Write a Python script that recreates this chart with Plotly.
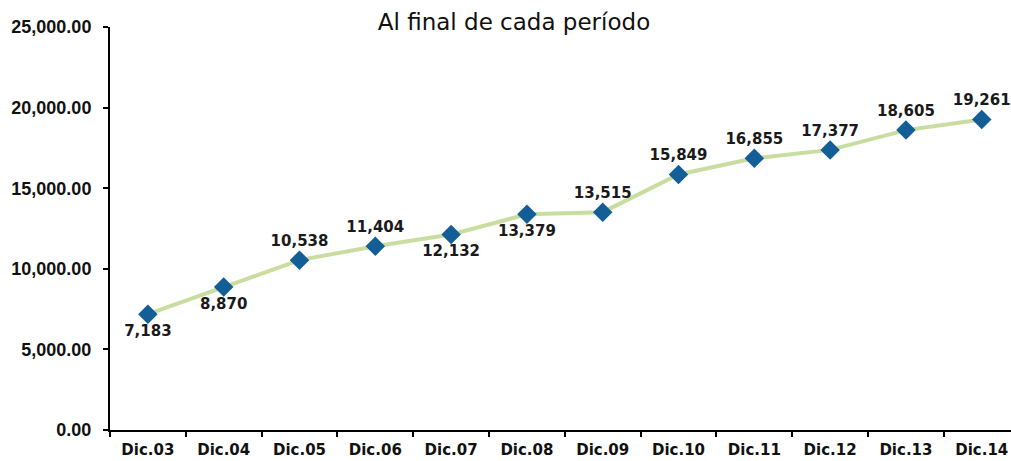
import plotly.graph_objects as go

categories = ["Dic.03", "Dic.04", "Dic.05", "Dic.06", "Dic.07", "Dic.08",
              "Dic.09", "Dic.10", "Dic.11", "Dic.12", "Dic.13", "Dic.14"]
values = [7183, 8870, 10538, 11404, 12132, 13379, 13515, 15849, 16855, 17377, 18605, 19261]
label_pos = ["bottom center", "bottom center", "top center", "top center", "bottom center",
             "bottom center", "top center", "top center", "top center", "top center",
             "top center", "top center"]
y_ticks = [0, 5000, 10000, 15000, 20000, 25000]
title_text = "Al final de cada período"

W, H = 1011, 461

fig = go.Figure()
fig.add_trace(go.Scatter(
    x=categories, y=values,
    mode="lines+markers+text",
    line=dict(color="#C9DDA0", width=4),
    marker=dict(symbol="diamond", size=15, color="#135E96"),
    text=[f"{v:,}" for v in values],
    textposition=label_pos,
    textfont=dict(family="DejaVu Sans", size=15, color="#1a1a1a", weight="bold"),
    cliponaxis=False,
    hoverinfo="skip",
))

fig.update_layout(
    width=W, height=H,
    margin=dict(l=110, r=0, t=27, b=31),
    plot_bgcolor="white", paper_bgcolor="white",
    showlegend=False,
    title=dict(text=title_text, x=514 / W, xanchor="center", y=1 - 22 / H, yanchor="middle",
               yref="container",
               font=dict(family="DejaVu Sans", size=23, color="#111111")),
)
fig.update_xaxes(
    type="category", range=[-0.5, 11.386],
    showline=True, linecolor="black", linewidth=2,
    ticks="outside", tickson="boundaries", ticklen=5, tickcolor="black", tickwidth=2,
    ticklabelstandoff=5,
    tickfont=dict(family="DejaVu Sans", size=15, color="#111111", weight="bold"),
    showgrid=False, zeroline=False,
)
fig.update_yaxes(
    range=[0, 25000], tickvals=y_ticks, tickformat=",.2f",
    showline=True, linecolor="black", linewidth=2,
    ticks="outside", ticklen=5, tickcolor="black", tickwidth=2,
    ticklabelstandoff=8,
    tickfont=dict(family="Liberation Sans", size=18, color="#111111", weight="bold"),
    showgrid=False, zeroline=False,
)

fig.write_html(
    "out.html",
    config={"displayModeBar": False},
    post_script="document.body.style.margin='0';document.body.style.overflow='hidden';",
)
